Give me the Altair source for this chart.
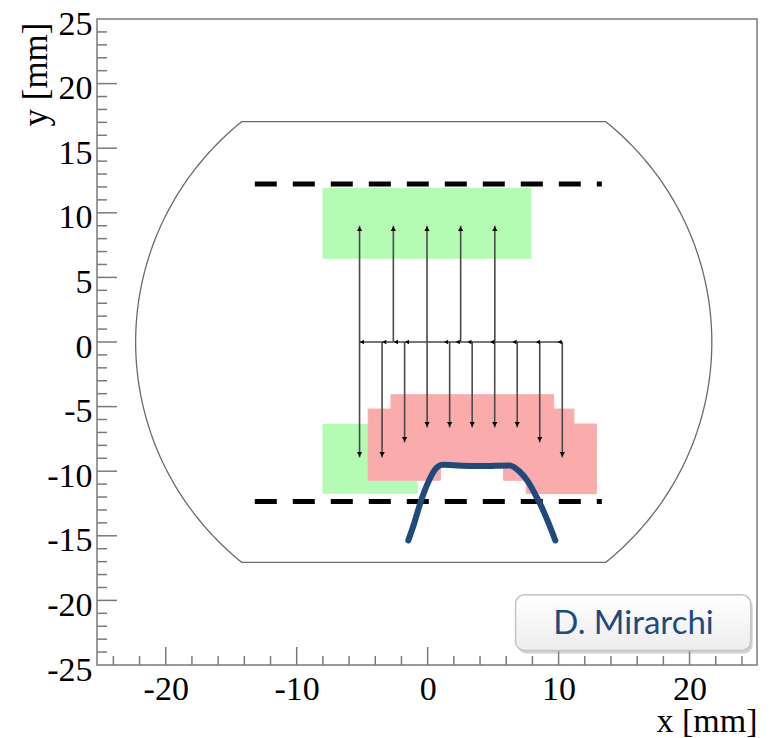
import altair as alt
import pandas as pd
import numpy as np

# ---------------- axes ----------------
X_DOMAIN = [-25.25, 25.15]
Y_DOMAIN = [-25, 25]
x_label_values = [-20, -10, 0, 10, 20]
y_label_values = [-25, -20, -15, -10, -5, 0, 5, 10, 15, 20, 25]
x_major_ticks = [-20, -10, 0, 10, 20]
x_minor_ticks = [-24, -22, -18, -16, -14, -12, -8, -6, -4, -2, 2, 4, 6, 8,
                 12, 14, 16, 18, 22, 24]
y_major_ticks = [-20, -15, -10, -5, 0, 5, 10, 15, 20]
y_minor_ticks = [-24, -23, -22, -21, -19, -18, -17, -16, -14, -13, -12, -11,
                 -9, -8, -7, -6, -4, -3, -2, -1, 1, 2, 3, 4, 6, 7, 8, 9,
                 11, 12, 13, 14, 16, 17, 18, 19, 21, 22, 23, 24]

# ---------------- aperture outline ----------------
aperture_center_x = -0.3
aperture_radius = 22.0
aperture_flat_y = 17.05

# ---------------- dashed jaw lines ----------------
dash_x0 = [-13.2, -13.2]
dash_x1 = [13.3, 13.3]
dash_y = [12.23, -12.34]

# ---------------- green regions ----------------
green_x0 = [-8.03, -8.03]
green_x1 = [7.91, -0.76]
green_y0 = [6.45, -6.35]
green_y1 = [11.92, -11.75]

# ---------------- pink regions ----------------
pink_x0 = [-4.54, -2.8, 0.97, 5.8, 7.53, 9.62, 11.17]
pink_x1 = [-2.8, 0.97, 5.8, 7.53, 9.62, 11.17, 12.88]
pink_top = [-5.19, -4.08, -4.08, -4.08, -4.08, -5.19, -6.35]
pink_bottom = [-10.7, -10.7, -9.4, -10.7, -11.73, -11.73, -11.73]

# ---------------- arrows ----------------
up_arrow_x = [-5.2, -2.62, -0.05, 2.52, 5.13]
up_arrow_end = [9.0, 9.0, 9.0, 9.0, 9.0]
down_arrow_x = [-5.2, -3.48, -1.76, -0.04, 1.68, 3.4, 5.12, 6.84, 8.56, 10.28]
down_arrow_end = [-8.93, -8.93, -7.77, -6.61, -6.61, -6.61, -6.61, -6.61, -7.77, -8.93]
hline_x = [-5.2]
hline_x2 = [10.28]
hline_markers_x = [-5.02, -3.31, -2.42, -1.58, 1.41, 2.30, 3.19, 4.93, 6.63, 8.42, 10.08]

# ---------------- blue curve ----------------
curve_x = [-1.48, -1.02, -0.64, -0.25, 0.13, 0.51, 1.15, 2.56, 4.09, 6.25,
           7.02, 7.65, 8.16, 8.68, 9.18, 9.75]
curve_y = [-15.36, -14.01, -12.72, -11.56, -10.66, -9.94, -9.50, -9.57, -9.60,
           -9.55, -10.02, -10.79, -11.69, -12.72, -13.89, -15.36]

# ---------------- label box ----------------
box_x = [6.71]
box_x2 = [24.67]
box_y = [-19.56]
box_y2 = [-23.87]
box_text = ["D. Mirarchi"]
box_text_x = [15.72]
box_text_y = [-22.62]

SERIF = "Liberation Serif"
GRAY = "#7a7a7a"
W, H = 660, 646

xs = alt.Scale(domain=X_DOMAIN, nice=False, zero=False)
ys = alt.Scale(domain=Y_DOMAIN, nice=False, zero=False)

XAX = alt.Axis(values=x_label_values, ticks=False, tickSize=0, domain=False, grid=False,
               labelFont=SERIF, labelFontSize=34, labelColor="black", labelPadding=7,
               labelExpr="'' + datum.value", labelFlush=False,
               title="x [mm]", titleFont=SERIF, titleFontSize=34, titleFontWeight="normal",
               titleColor="black", titleAlign="right", titleBaseline="alphabetic",
               titleX=W, titleY=66)
YAX = alt.Axis(values=y_label_values, ticks=False, tickSize=0, domain=False, grid=False,
               labelFont=SERIF, labelFontSize=34, labelColor="black", labelPadding=5,
               labelExpr="'' + datum.value", labelFlush=False, labelOffset=5,
               labelBaseline="middle", labelAlign="right",
               title="y [mm]", titleFont=SERIF, titleFontSize=35, titleFontWeight="normal",
               titleColor="black", titleAlign="right", titleBaseline="middle",
               titleAngle=270, titleX=-62, titleY=3)


def X(f="x"):
    return alt.X(f, type="quantitative", scale=xs, axis=XAX)


def Y(f="y"):
    return alt.Y(f, type="quantitative", scale=ys, axis=YAX)


# aperture points (circle of given centre/radius cut by two flat lines)
a0 = np.arcsin(aperture_flat_y / aperture_radius)
t_right = np.linspace(a0, -a0, 80)
t_left = np.linspace(np.pi + a0, np.pi - a0, 80)
px = np.concatenate([aperture_center_x + aperture_radius * np.cos(t_right),
                     aperture_center_x + aperture_radius * np.cos(t_left),
                     [aperture_center_x + aperture_radius * np.cos(t_right[0])]])
py = np.concatenate([aperture_radius * np.sin(t_right),
                     aperture_radius * np.sin(t_left),
                     [aperture_radius * np.sin(t_right[0])]])
ap_df = pd.DataFrame({"x": px, "y": py, "o": np.arange(len(px))})

green_df = pd.DataFrame({"x": green_x0, "x2": green_x1, "y": green_y0, "y2": green_y1})
pink_df = pd.DataFrame({"x": pink_x0, "x2": pink_x1, "y": pink_top, "y2": pink_bottom})
dash_df = pd.DataFrame({"x": dash_x0, "x2": dash_x1, "y": dash_y})
up_df = pd.DataFrame({"x": up_arrow_x, "y": [0] * len(up_arrow_x), "y2": up_arrow_end})
down_df = pd.DataFrame({"x": down_arrow_x, "y": [0] * len(down_arrow_x), "y2": down_arrow_end})
hline_df = pd.DataFrame({"x": hline_x, "x2": hline_x2, "y": [0]})
hmark_df = pd.DataFrame({"x": hline_markers_x, "y": [0] * len(hline_markers_x)})
curve_df = pd.DataFrame({"x": curve_x, "y": curve_y})
box_df = pd.DataFrame({"x": box_x, "x2": box_x2, "y": box_y, "y2": box_y2})
text_df = pd.DataFrame({"x": box_text_x, "y": box_text_y, "t": box_text})

xmaj_df = pd.DataFrame({"x": x_major_ticks})
xmin_df = pd.DataFrame({"x": x_minor_ticks})
ymaj_df = pd.DataFrame({"y": y_major_ticks})
ymin_df = pd.DataFrame({"y": y_minor_ticks})

green = alt.Chart(green_df).mark_rect(color="#b4fbb4").encode(
    x=X(), x2="x2", y=Y(), y2="y2")
pink = alt.Chart(pink_df).mark_rect(color="#faabab", stroke="#faabab", strokeWidth=1).encode(
    x=X(), x2="x2", y=Y(), y2="y2")
aperture = alt.Chart(ap_df).mark_line(color="#6a6a6a", strokeWidth=1.3).encode(
    x=X(), y=Y(), order="o:Q")
dashes = alt.Chart(dash_df).mark_rule(color="black", strokeWidth=5, strokeDash=[22, 16]).encode(
    x=X(), x2="x2", y=Y())
ARROW = "#4a4a4a"
up_lines = alt.Chart(up_df).mark_rule(color=ARROW, strokeWidth=1.6).encode(
    x=X(), y=Y(), y2="y2")
up_heads = alt.Chart(up_df).mark_point(shape="triangle-up", filled=True, size=28,
                                       color="black", opacity=1, yOffset=3).encode(
    x=X(), y=Y("y2"))
down_lines = alt.Chart(down_df).mark_rule(color=ARROW, strokeWidth=1.6).encode(
    x=X(), y=Y(), y2="y2")
down_heads = alt.Chart(down_df).mark_point(shape="triangle-down", filled=True, size=28,
                                           color="black", opacity=1, yOffset=-3).encode(
    x=X(), y=Y("y2"))
hline = alt.Chart(hline_df).mark_rule(color=ARROW, strokeWidth=1.6).encode(
    x=X(), x2="x2", y=Y())
hmarks = alt.Chart(hmark_df).mark_point(shape="triangle-left", filled=True, size=22,
                                        color="black", opacity=1).encode(x=X(), y=Y())
curve = alt.Chart(curve_df).mark_line(color="#1f4a7c", strokeWidth=6, strokeCap="round",
                                      strokeJoin="round", interpolate="monotone").encode(
    x=X(), y=Y())
shadow = alt.Chart(box_df).mark_rect(fill="#9a9a9a", opacity=0.45, cornerRadius=9,
                                     xOffset=2, x2Offset=2, yOffset=3, y2Offset=3).encode(
    x=X(), x2="x2", y=Y(), y2="y2")
box = alt.Chart(box_df).mark_rect(
    fill=alt.LinearGradient(gradient="linear",
                            stops=[alt.GradientStop(color="#ffffff", offset=0),
                                   alt.GradientStop(color="#ededed", offset=1)],
                            x1=0, x2=0, y1=0, y2=1),
    stroke="#c4c4c4", strokeWidth=1.5, cornerRadius=9).encode(
    x=X(), x2="x2", y=Y(), y2="y2")
label = alt.Chart(text_df).mark_text(font="Lato", fontSize=33, color="#1f4a7c",
                                     align="center", baseline="alphabetic").encode(
    x=X(), y=Y(), text="t:N")

xmaj = alt.Chart(xmaj_df).mark_rule(color=GRAY, strokeWidth=1.5).encode(
    x=X(), y=alt.value(H), y2=alt.value(H - 18))
xmin = alt.Chart(xmin_df).mark_rule(color=GRAY, strokeWidth=1.5).encode(
    x=X(), y=alt.value(H), y2=alt.value(H - 9))
ymaj = alt.Chart(ymaj_df).mark_rule(color=GRAY, strokeWidth=1.5).encode(
    y=Y(), x=alt.value(0), x2=alt.value(20))
ymin = alt.Chart(ymin_df).mark_rule(color=GRAY, strokeWidth=1.5).encode(
    y=Y(), x=alt.value(0), x2=alt.value(10))

chart = alt.layer(
    green, pink, aperture, dashes, up_lines, down_lines, hline, up_heads, down_heads,
    hmarks, curve, xmaj, xmin, ymaj, ymin, shadow, box, label
).properties(
    width=W, height=H,
    autosize=alt.AutoSizeParams(type="none"),
    padding={"left": 89, "top": 11, "right": 4, "bottom": 73},
    background="white",
).configure_view(stroke=GRAY, strokeWidth=1.5)

chart.save("out.html", embed_options={"renderer": "svg", "actions": False})
